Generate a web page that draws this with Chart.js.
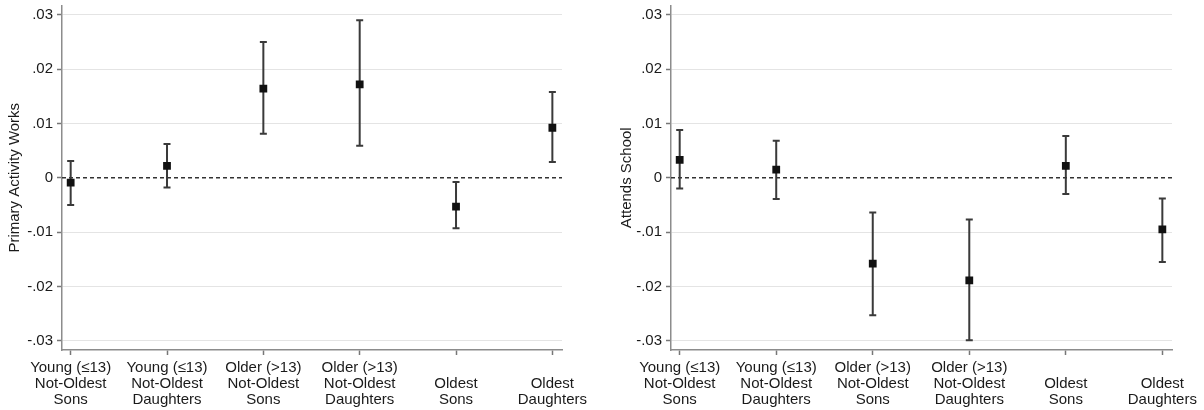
<!DOCTYPE html>
<html>
<head>
<meta charset="utf-8">
<script src="https://cdn.jsdelivr.net/npm/chart.js@4"></script>
<style>
  body { margin: 0; background: #fff; }
  canvas { position: absolute; top: 0; }
</style>
</head>
<body>
<canvas id="work" width="600" height="410" style="left:0"></canvas>
<canvas id="school" width="604" height="410" style="left:600px"></canvas>
<script>
// Categories (x axis, multi-line labels)
const categories = [
    ['Young (≤13)', 'Not-Oldest', 'Sons'],
    ['Young (≤13)', 'Not-Oldest', 'Daughters'],
    ['Older (>13)', 'Not-Oldest', 'Sons'],
    ['Older (>13)', 'Not-Oldest', 'Daughters'],
    ['', 'Oldest', 'Sons'],
    ['', 'Oldest', 'Daughters']
];

// Y ticks
const yTickValues = [0.03, 0.02, 0.01, 0, -0.01, -0.02, -0.03];
const yTickLabels = ['.03', '.02', '.01', '0', '-.01', '-.02', '-.03'];

// Primary Activity Works: estimate and confidence interval
const workPoint = [-0.0009, 0.0022, 0.0164, 0.0172, -0.0053, 0.0092];
const workLow = [-0.0050, -0.0018, 0.0081, 0.0059, -0.0093, 0.0029];
const workHigh = [0.0031, 0.0062, 0.0250, 0.0290, -0.0008, 0.0158];

// Attends School: estimate and confidence interval
const schoolPoint = [0.0033, 0.0015, -0.0158, -0.0189, 0.0022, -0.0095];
const schoolLow = [-0.0020, -0.0039, -0.0253, -0.0299, -0.0030, -0.0155];
const schoolHigh = [0.0088, 0.0068, -0.0064, -0.0077, 0.0077, -0.0038];

const FONT = 'Arial, "Liberation Sans", sans-serif';

// draws the dashed zero line and the whiskers, under the markers
const errorBars = {
    id: 'errorBars',
    beforeDatasetsDraw(chart, args, opts) {
        const { ctx, chartArea, scales: { x, y } } = chart;
        ctx.save();
        const y0 = y.getPixelForValue(0);
        ctx.strokeStyle = '#333';
        ctx.lineWidth = 1.5;
        ctx.setLineDash([4, 3]);
        ctx.beginPath();
        ctx.moveTo(chartArea.left, y0);
        ctx.lineTo(chartArea.right, y0);
        ctx.stroke();
        ctx.setLineDash([]);

        ctx.strokeStyle = '#3a3a3a';
        ctx.lineWidth = 2;
        opts.low.forEach((lo, i) => {
            const px = x.getPixelForValue(i + 1);
            const pLo = y.getPixelForValue(lo);
            const pHi = y.getPixelForValue(opts.high[i]);
            ctx.beginPath();
            ctx.moveTo(px, pLo);
            ctx.lineTo(px, pHi);
            ctx.moveTo(px - 3.5, pLo);
            ctx.lineTo(px + 3.5, pLo);
            ctx.moveTo(px - 3.5, pHi);
            ctx.lineTo(px + 3.5, pHi);
            ctx.stroke();
        });
        ctx.restore();
    }
};

function makePanel(id, title, point, low, high, axisWidth, padRight, titlePad) {
    new Chart(document.getElementById(id), {
        type: 'scatter',
        data: {
            datasets: [{
                data: point.map((v, i) => ({ x: i + 1, y: v })),
                pointStyle: 'rect',
                pointRadius: 5.5,
                backgroundColor: '#111',
                borderColor: '#111',
                borderWidth: 0
            }]
        },
        plugins: [errorBars],
        options: {
            responsive: false,
            animation: false,
            layout: { padding: { top: 5, right: padRight, left: 0, bottom: 0 } },
            plugins: {
                legend: { display: false },
                tooltip: { enabled: false },
                errorBars: { low: low, high: high }
            },
            scales: {
                x: {
                    type: 'linear',
                    min: 0.91,
                    max: 6.1,
                    afterBuildTicks: scale => {
                        scale.ticks = categories.map((c, i) => ({ value: i + 1 }));
                    },
                    afterFit: scale => {
                        scale.height = 60;
                        scale.paddingLeft = 0;
                        scale.paddingRight = 0;
                    },
                    grid: { drawOnChartArea: false, tickLength: 5, tickColor: '#777', tickWidth: 1.5 },
                    border: { color: '#8c8c8c', width: 1.5 },
                    ticks: {
                        autoSkip: false,
                        maxRotation: 0,
                        padding: 5,
                        color: '#1a1a1a',
                        font: { family: FONT, size: 15, lineHeight: 1.05 },
                        callback: value => categories[value - 1]
                    }
                },
                y: {
                    min: -0.0317,
                    max: 0.0317,
                    afterBuildTicks: scale => {
                        scale.ticks = yTickValues.map(v => ({ value: v }));
                    },
                    afterFit: scale => {
                        scale.width = axisWidth;
                        scale.paddingTop = 0;
                        scale.paddingBottom = 0;
                    },
                    grid: {
                        color: c => (c.tick && c.tick.value === 0) ? 'rgba(0,0,0,0)' : '#e4e4e4',
                        lineWidth: 1,
                        tickLength: 5,
                        tickColor: '#777',
                        tickWidth: 1.5
                    },
                    border: { color: '#8c8c8c', width: 1.5 },
                    ticks: {
                        padding: 4,
                        color: '#1a1a1a',
                        font: { family: FONT, size: 15 },
                        callback: value => yTickLabels[yTickValues.indexOf(value)]
                    },
                    title: {
                        display: true,
                        text: title,
                        color: '#1a1a1a',
                        padding: { top: titlePad, bottom: 0 },
                        font: { family: FONT, size: 15 }
                    }
                }
            }
        }
    });
}

makePanel('work', 'Primary Activity Works', workPoint, workLow, workHigh, 62, 38, 6);
makePanel('school', 'Attends School', schoolPoint, schoolLow, schoolHigh, 71, 32, 18);
</script>
</body>
</html>
